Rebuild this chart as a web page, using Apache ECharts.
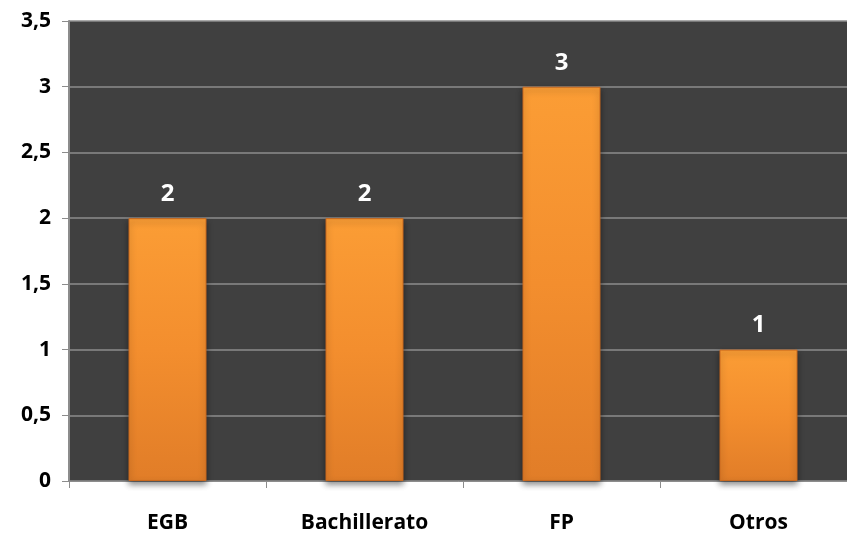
<!DOCTYPE html>
<html><head><meta charset="utf-8">
<script src="https://cdn.jsdelivr.net/npm/echarts@6/dist/echarts.min.js"></script>
<style>html,body{margin:0;padding:0;background:#fff;}#c{width:847px;height:536px;}</style>
</head><body><div id="c"></div>
<script>
const categories = ['EGB', 'Bachillerato', 'FP', 'Otros'];
const values = [2, 2, 3, 1];
const yTicks = [0, 0.5, 1, 1.5, 2, 2.5, 3, 3.5];

const chart = echarts.init(document.getElementById('c'), null, {renderer: 'canvas'});
const font = '"Open Sans", sans-serif';
chart.setOption({
  animation: false,
  backgroundColor: '#ffffff',
  grid: {left: 69, width: 788, top: 21, bottom: 55, show: true, backgroundColor: '#404040', borderWidth: 0,
    outerBoundsMode: 'none', containLabel: false},
  xAxis: {
    type: 'category', data: categories,
    axisLine: {lineStyle: {color: '#8c8c8c', width: 1}},
    axisTick: {show: true, alignWithLabel: false, length: 7, lineStyle: {color: '#8c8c8c'}},
    axisLabel: {color: '#000', fontFamily: font, fontWeight: 'bold', fontSize: 21, margin: 32}
  },
  yAxis: {
    type: 'value', min: yTicks[0], max: yTicks[yTicks.length - 1], interval: 0.5,
    axisLine: {show: true, lineStyle: {color: '#8c8c8c', width: 2}},
    axisTick: {show: true, length: 7, lineStyle: {color: '#8c8c8c'}},
    splitLine: {lineStyle: {color: '#8c8c8c', width: 1.5}},
    axisLabel: {color: '#000', fontFamily: font, fontWeight: 'bold', fontSize: 21, margin: 18,
      formatter: v => String(v).replace('.', ',')}
  },
  series: [{
    type: 'bar', data: values, barWidth: 78,
    itemStyle: {
      color: new echarts.graphic.LinearGradient(0, 0, 0, 1, [
        {offset: 0, color: '#fb9d35'},
        {offset: 0.5, color: '#f38e2e'},
        {offset: 1, color: '#e17d28'}
      ]),
      borderColor: '#c9691e', borderWidth: 1,
      shadowColor: 'rgba(0,0,0,0.45)', shadowBlur: 6, shadowOffsetY: 3
    },
    label: {show: true, position: 'top', distance: 12, color: '#fff', fontFamily: font, fontWeight: 'bold', fontSize: 24}
  }]
});
</script></body></html>
